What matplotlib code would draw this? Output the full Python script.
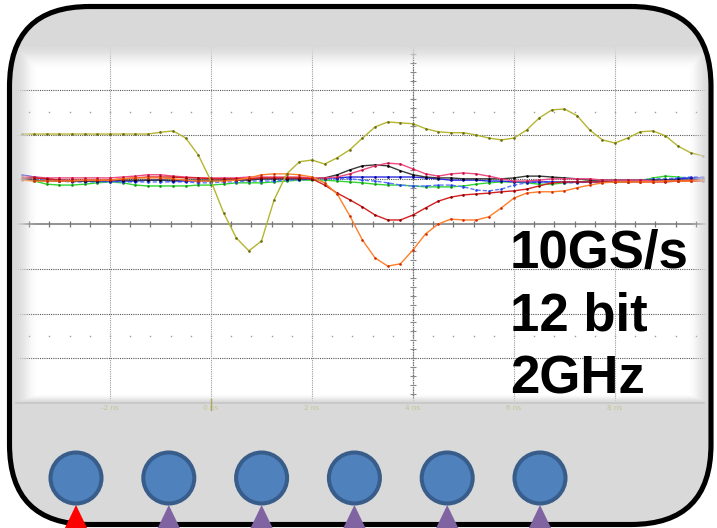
import numpy as np
import matplotlib
matplotlib.use("Agg")
import matplotlib.pyplot as plt
from matplotlib.patches import FancyBboxPatch, Circle, Polygon
from matplotlib.transforms import blended_transform_factory

# ---------------------------------------------------------------- data
# sample times in ns (one sample every 0.25 ns)
t_start, t_step, n_samples = -3.75, 0.25, 55
times = t_start + t_step * np.arange(n_samples)

# channel voltages in mV (100 mV / div)
olive = [201, 201, 201, 201, 201, 201, 201, 201, 201, 201, 201,
         205, 208, 192, 154, 96, 25, -31, -60, -38, 54, 112, 139, 143, 134,
         148, 166, 192, 217, 228, 226, 224, 213, 206, 204, 204, 199, 192, 188,
         192, 210, 237, 255, 257, 242, 210, 188, 181, 192, 206, 208, 197, 174,
         159, 152]
orange = [98, 96, 96, 96, 96, 98, 98, 98, 101, 103, 103, 103, 101, 98, 96, 96,
          96, 98, 103, 110, 112, 112, 110, 105,
          92, 67, 18, -36, -76, -94, -89, -58, -22, 0, 11, 9, 9, 16, 36, 58,
          69, 72, 72, 74, 81, 87, 92, 94, 94, 94, 94, 96, 96, 96, 98]
red = [103, 103, 101, 98, 98, 98, 98, 98, 101, 103, 105, 105, 105, 103, 103,
       101, 101, 101, 101, 103, 103, 103, 103, 101,
       87, 69, 54, 38, 20, 9, 9, 20, 36, 51, 60, 65, 67, 69, 72, 74, 78, 85,
       92, 94, 94, 94, 94, 94, 94, 94, 94, 94, 96, 96, 96]
black = [101, 98, 96, 96, 96, 96, 96, 98, 98, 98, 98, 98, 98, 98, 98, 98, 98,
         98, 98, 101, 101, 101, 101, 101,
         103, 110, 121, 130, 132, 130, 119, 110, 105, 103, 103, 101, 101, 101,
         101, 103, 107, 107, 105, 103, 101, 98, 98, 98, 98, 98, 98, 98, 98,
         98, 98]
pink = [105, 105, 103, 103, 103, 103, 103, 103, 105, 107, 110, 110, 107, 105,
        103, 103, 103, 103, 105, 105, 105, 105, 105, 103,
        103, 105, 112, 121, 130, 136, 134, 123, 112, 107, 112, 114, 112, 107,
        101, 96, 96, 98, 101, 101, 101, 101, 98, 98, 98, 98, 96, 96, 96, 98,
        98]
blue_a = [110, 105, 101, 98, 96, 96, 96, 96, 96, 96, 98, 98, 96, 96, 96, 96,
          98, 98, 101, 101, 101, 101, 101, 101,
          103, 103, 105, 105, 105, 105, 105, 105, 103, 101, 98, 98, 98, 96, 96,
          94, 94, 94, 94, 94, 94, 94, 94, 96, 96, 96, 98, 98, 101, 103, 103]
blue_b = [103, 101, 98, 96, 94, 94, 94, 94, 94, 94, 94, 94, 94, 94, 92, 92, 94,
          94, 96, 96, 96, 98, 98, 101,
          101, 101, 101, 98, 96, 92, 87, 85, 85, 87, 87, 83, 76, 74, 78, 87,
          92, 94, 94, 92, 92, 94, 96, 98, 98, 98, 101, 101, 103, 105, 105]
green = [103, 96, 89, 87, 87, 89, 92, 94, 92, 87, 85, 85, 85, 85, 87, 87, 89,
         92, 92, 92, 94, 96, 98, 98,
         98, 96, 94, 92, 89, 87, 87, 85, 83, 83, 83, 85, 89, 92, 94, 94, 92,
         89, 89, 92, 94, 96, 96, 94, 94, 96, 103, 107, 105, 101, 98]

x_ticks = [-2, 0, 2, 4, 6, 8]
x_ticklabels = ["-2 ns", "0 ns", "2 ns", "4 ns", "6 ns", "8 ns"]
specs = ["10GS/s", "12 bit", "2GHz"]
n_channels = 6
active_channel = 0

# ---------------------------------------------------------------- figure
W, H = 717, 528
fig = plt.figure(figsize=(W / 100, H / 100), dpi=100, facecolor="white")

# scope display area
ax = fig.add_axes([15 / W, 1 - 403 / H, 691 / W, 358 / H], zorder=1)
ax.set_facecolor("none")
ax.set_xlim(-3.881, 9.802)
ax.set_ylim(-400, 400)
ax.axis("off")

# graticule
for v in range(-400, 401, 100):
    if v == 0:
        ax.axhline(v, color="#8a8a8a", lw=1.3, zorder=1)
    else:
        ax.axhline(v, color="#555555", lw=0.8, ls=(0, (1, 1)), zorder=1)
for t in x_ticks:
    ax.axvline(t, color="#9a9a9a", lw=0.8, ls=(0, (1, 1)), zorder=1)
ax.axvline(4, color="#6a6a6a", lw=0.9, ls=(0, (1, 1)), zorder=1)

minor_t = np.arange(-3.6, 9.7, 0.4)
ax.plot(minor_t, np.zeros_like(minor_t), ls="none", marker="|", ms=5,
        mew=0.9, color="#777777", zorder=1)
minor_v = np.arange(-380, 381, 20)
ax.plot(np.full_like(minor_v, 4.0, dtype=float), minor_v, ls="none",
        marker="_", ms=4, mew=0.8, color="#888888", zorder=1)
for v in (250, -250):
    ax.plot(minor_t, np.full_like(minor_t, v), ls="none", marker="s", ms=1.0,
            mew=0, color="#9a9a9a", zorder=1)

# waveforms
traces = [
    (green, "#33d633", "#109a10", "-"),
    (blue_b, "#5a78ff", "#2040e0", (0, (3, 1.5))),
    (blue_a, "#2a2ae0", "#0000a0", "-"),
    (black, "#3a3a3a", "#000000", "-"),
    (pink, "#ec4a80", "#c0103a", "-"),
    (red, "#d42020", "#8e0000", "-"),
    (orange, "#ff7f2a", "#d42a00", "-"),
    (olive, "#b5b530", "#6b6b10", "-"),
]
for vals, lc, mc, ls in traces:
    ax.plot(times, vals, color=lc, lw=1.0, ls=ls, marker="o", ms=1.9,
            mfc=mc, mec=mc, mew=0, zorder=3)

# ---------------------------------------------------------------- frame
top = fig.add_axes([0, 0, 1, 1], zorder=2)
top.set_facecolor("none")
top.set_xlim(0, W)
top.set_ylim(H, 0)
top.axis("off")

frame = FancyBboxPatch((9.5, 6.5), 701.5, 518, boxstyle="round,pad=0,rounding_size=80",
                       fc="none", ec="black", lw=3.7, zorder=6)

# gray bezel fading into the white display
yy, xx = np.mgrid[0:H, 0:W] + 0.5
fade = np.maximum.reduce([
    np.clip((70 - yy) / 26, 0, 1),
    np.clip((38 - xx) / 24, 0, 1),
    np.clip((xx - 688) / 22, 0, 1),
    np.clip((yy - 394) / 9, 0, 1),
])
fade = fade * fade * (3 - 2 * fade)
rgba = np.zeros((H, W, 4))
rgba[..., :3] = 217 / 255
rgba[..., 3] = fade
im = top.imshow(rgba, extent=(0, W, H, 0), origin="upper",
                interpolation="bilinear", aspect="auto", zorder=1)
clip = FancyBboxPatch((9.5, 6.5), 701.5, 518, boxstyle="round,pad=0,rounding_size=80",
                      fc="none", ec="none", transform=top.transData)
im.set_clip_path(clip)

top.plot([16, 704], [402.5, 402.5], color="#c6c6c6", lw=1.2, zorder=2)

# time axis labels
bt = blended_transform_factory(ax.transData, top.transData)
for t, lab in zip(x_ticks, x_ticklabels):
    top.text(t, 408, lab, transform=bt, ha="center", va="center",
             fontsize=5.2, color="#c4c496", zorder=3)
top.plot([0, 0], [399, 410], transform=bt, color="#a8a860", lw=1.0, zorder=3)

top.add_patch(frame)

# specification text
for i, s in enumerate(specs):
    top.text(510, 268 + i * 62.5, s, family="Liberation Sans", weight="bold",
             fontsize=38, color="black", ha="left", va="baseline", zorder=5)

# channel buttons with input markers
for i in range(n_channels):
    cx = 76 + i * 92.8
    top.add_patch(Circle((cx, 478), 25.5, fc="#4f81bd", ec="#385d8a",
                         lw=2.9, zorder=7))
    tri_color = "#ff0000" if i == active_channel else "#8064a2"
    top.add_patch(Polygon([(cx - 12.5, 531), (cx, 505), (cx + 12.5, 531)],
                          closed=True, fc=tri_color, ec="none", zorder=8))

fig.savefig("out.png", dpi=100, facecolor="white")
